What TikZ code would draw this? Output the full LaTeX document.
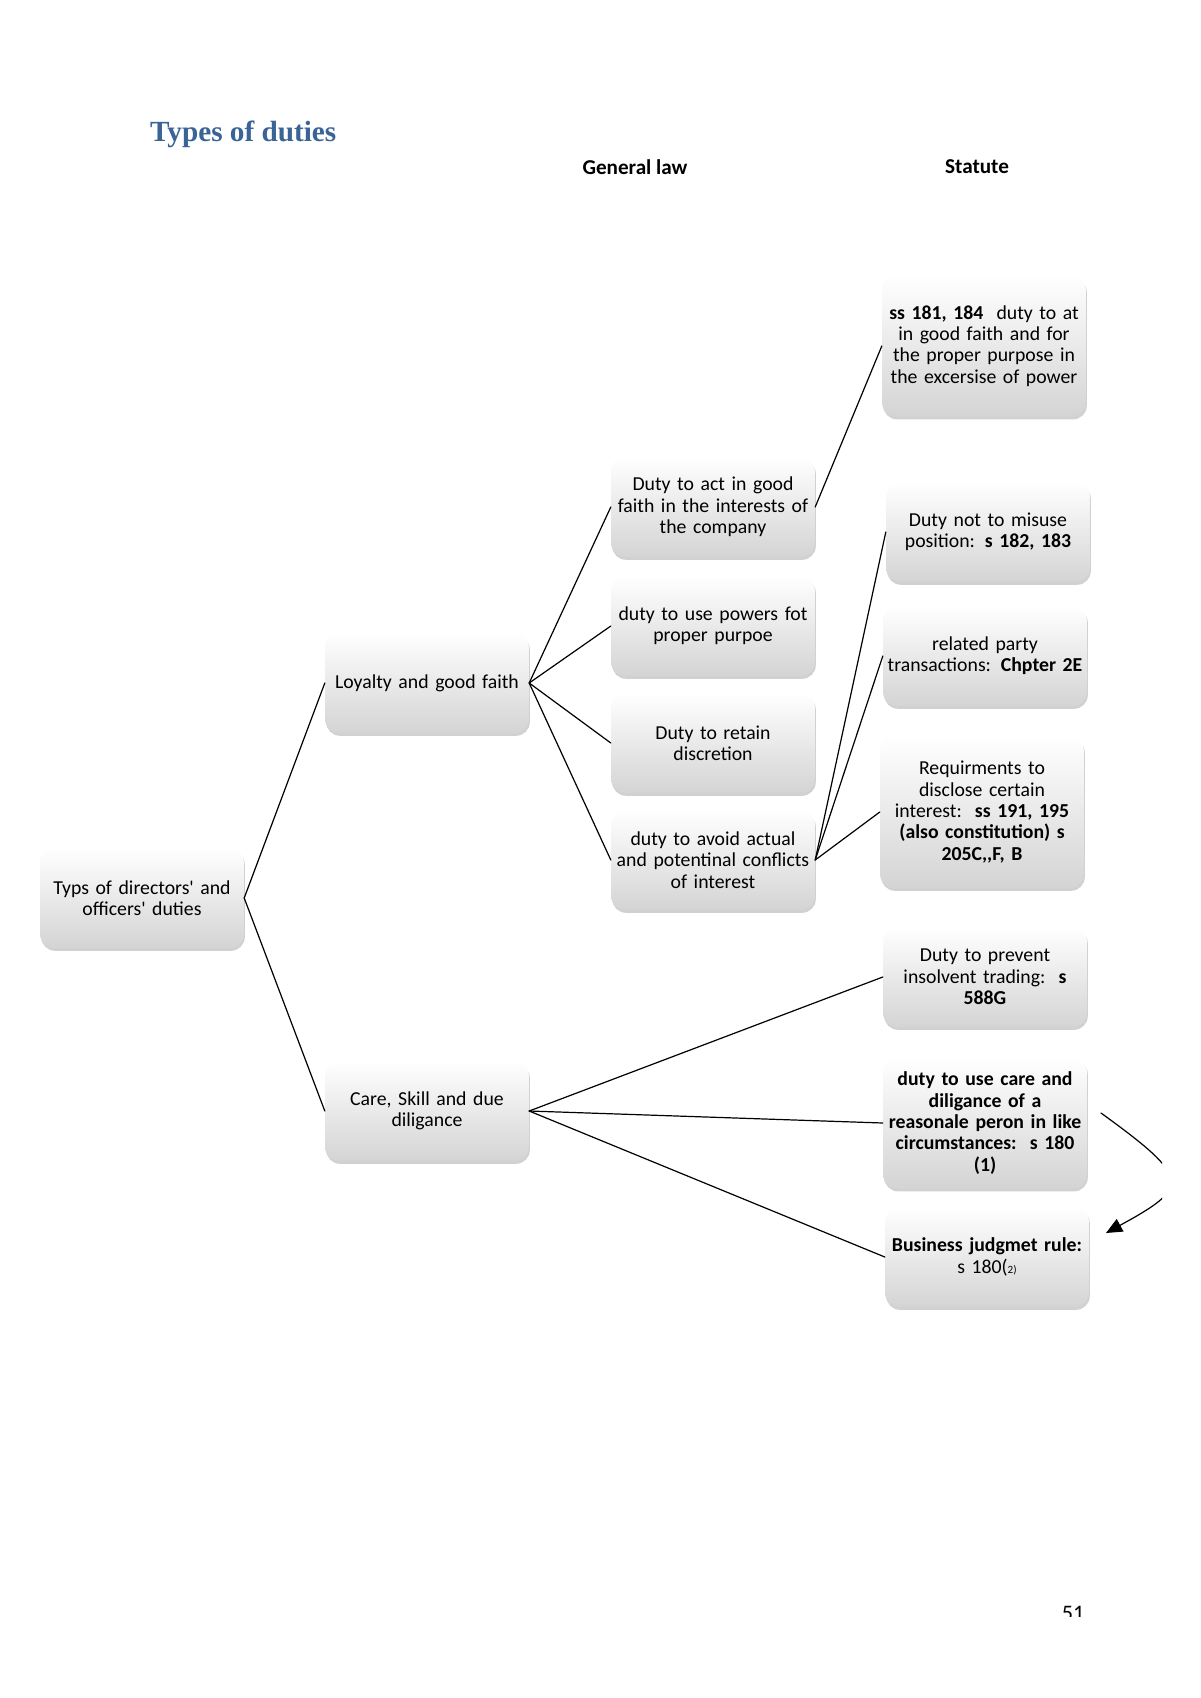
\documentclass[tikz,border=0pt]{standalone}
\usepackage{fontspec}
\setmainfont{Carlito}
\newfontfamily\titlefont{Liberation Serif}
\usetikzlibrary{arrows.meta,shadows}
\definecolor{headblue}{HTML}{3A6496}
\definecolor{boxgrey}{HTML}{D4D4D4}
\definecolor{shadowgrey}{HTML}{9A9A9A}
\tikzset{
    every picture/.style={line cap=round,line join=round},
    dutybox/.style={rounded corners=2.4mm,top color=white,bottom color=boxgrey,
      draw=none,minimum width=101pt,minimum height=49.6pt,text width=99pt,
      inner sep=1pt,align=center,font=\fontsize{9.8}{10.6}\selectfont,
      drop shadow={shadow xshift=0.5pt,shadow yshift=-1.4pt,opacity=0.45,fill=shadowgrey}},
    linkline/.style={draw=black,line width=0.6pt},
    colhead/.style={font=\bfseries\fontsize{10.5}{12}\selectfont},
    pagetitle/.style={font=\titlefont\bfseries\fontsize{14.5}{16}\selectfont,text=headblue}
}
\begin{document}
\begin{tikzpicture}[x=0.4961pt,y=-0.4961pt]
  \useasboundingbox (0,0) rectangle (1200,1698);
  % headings
  \node[pagetitle,anchor=west] (title) at (143,134) {Types of duties};
  \node[colhead] (genlaw) at (635,167) {General law};
  \node[colhead] (statute) at (977,167) {Statute};

  % tree
  \node[dutybox] (root) at (142,898) {Typs of directors\textquotesingle{} and\\officers\textquotesingle{} duties};
  \node[dutybox] (loyal) at (427,683) {Loyalty and good faith};
  \node[dutybox] (care) at (427,1111) {Care, Skill and due\\diligance};

  % general law
  \node[dutybox] (g1) at (713,507) {Duty to act in good\\faith in the interests of\\the company};
  \node[dutybox] (g2) at (713,626) {duty to use powers fot\\proper purpoe};
  \node[dutybox] (g3) at (713,743) {Duty to retain\\discretion};
  \node[dutybox] (g4) at (713,860) {duty to avoid actual\\and potentinal conflicts\\of interest};

  % statute
  \node[dutybox,minimum height=70pt] (s1) at (984,346)
    {\textbf{ss 181, 184}\ \ duty to at\\in good faith and for\\the proper purpose in\\the excersise of power};
  \node[dutybox] (s2) at (988,532) {Duty not to misuse\\position: \textbf{s 182, 183}};
  \node[dutybox] (s3) at (985,656) {related party\\transactions: \textbf{Chpter 2E}};
  \node[dutybox,minimum height=75.4pt] (s4) at (982,812)
    {Requirments to\\disclose certain\\interest:\ \ \textbf{ss 191, 195}\\\textbf{(also constitution) s}\\\textbf{205C,{},F, B}};
  \node[dutybox] (s5) at (985,977) {Duty to prevent\\insolvent trading:\ \ \textbf{s}\\\textbf{588G}};
  \node[dutybox,minimum height=65pt,font=\bfseries\fontsize{9.8}{10.6}\selectfont] (s6) at (985,1123)
    {duty to use care and\\diligance of a\\reasonale peron in like\\circumstances:\ \ s 180\\(1)};
  \node[dutybox] (s7) at (987,1257)
    {\textbf{Business judgmet rule:}\\s 180({\fontsize{5.5}{6}\selectfont 2)}};

  % connectors
  \foreach \n in {loyal,care}
    \draw[linkline] (root.east) -- (\n.west);
  \foreach \n in {g1,g2,g3,g4}
    \draw[linkline] (loyal.east) -- (\n.west);
  \draw[linkline] (g1.east) -- (s1.west);
  \foreach \n in {s2,s3,s4}
    \draw[linkline] (g4.east) -- (\n.west);
  \foreach \n in {s5,s6,s7}
    \draw[linkline] (care.east) -- (\n.west);

  % loop arrow, cut by the page edge
  \coordinate (loopstart) at (1101,1113);
  \coordinate (looptip) at (1106,1233);
  \begin{scope}
    \clip (1050,1080) rectangle (1162,1260);
    \draw[linkline,-{Triangle[length=8pt,width=7pt]}]
      (loopstart) .. controls (1192,1179) and (1190,1187) .. (looptip);
  \end{scope}

  % page number
  \begin{scope}
    \clip (1040,1590) rectangle (1110,1616);
    \node[font=\fontsize{11}{13}\selectfont] (pagenum) at (1073,1613) {51};
  \end{scope}
\end{tikzpicture}
\end{document}
